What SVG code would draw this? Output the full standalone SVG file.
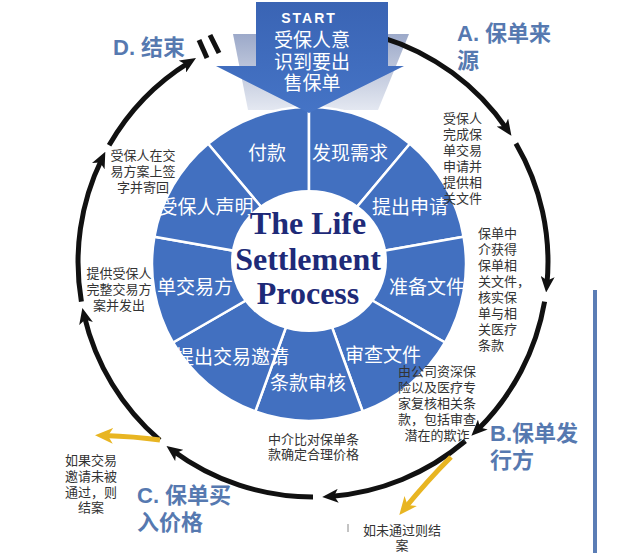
<svg xmlns="http://www.w3.org/2000/svg" width="625" height="559" viewBox="0 0 625 559">
<defs>
  <marker id="ah" viewBox="0 0 16 14" refX="8" refY="7" markerWidth="16" markerHeight="14" markerUnits="userSpaceOnUse" orient="auto">
    <path d="M0,0 L16,7 L0,14 L4,7 Z" fill="#111"/>
  </marker>
  <marker id="ahy" viewBox="0 0 18 16" refX="9" refY="8" markerWidth="18" markerHeight="16" markerUnits="userSpaceOnUse" orient="auto">
    <path d="M0,0 L18,8 L0,16 L5,8 Z" fill="#e8b522"/>
  </marker>
  <linearGradient id="back" x1="0" y1="0" x2="0" y2="1">
    <stop offset="0" stop-color="#9ca9c9"/>
    <stop offset="1" stop-color="#e4e8f1"/>
  </linearGradient>
  <linearGradient id="arr" x1="0" y1="0" x2="0" y2="1">
    <stop offset="0" stop-color="#3a64b4"/>
    <stop offset="1" stop-color="#4574c6"/>
  </linearGradient>
  <style>
    .seg { fill: #4270c0; stroke: #ffffff; stroke-width: 2.5; }
    .segt { font-family: "Noto Sans CJK SC", sans-serif; font-size: 19px; fill: #ffffff; text-anchor: middle; }
    .arc { fill: none; stroke: #111; stroke-width: 5; marker-end: url(#ah); }
    .yarc { fill: none; stroke: #e8b522; stroke-width: 5; marker-end: url(#ahy); }
    .note { font-family: "Noto Sans CJK SC", sans-serif; font-size: 13px; fill: #333; }
    .mid { text-anchor: middle; }
    .lab { font-family: "Liberation Sans", "Noto Sans CJK SC", sans-serif; font-size: 22px; font-weight: bold; fill: #5679b0; }
    .ctr { font-family: "Liberation Serif", serif; font-size: 32px; font-weight: bold; fill: #1e2a78; text-anchor: middle; }
  </style>
</defs>
<rect width="625" height="559" fill="#ffffff"/>

<!-- light back plate behind START arrow -->
<polygon points="233,34 409,34 378,110 248,110" fill="url(#back)"/>

<g id="connectors">
  <path class="arc" d="M381.7,37.3 A235,235 0 0 1 506.9,129.2"/>
  <path class="arc" d="M515.9,143.4 A235,235 0 0 1 546.9,284.5"/>
  <path class="arc" d="M544.6,301.6 A235,235 0 0 1 477.1,430.2"/>
  <path class="arc" d="M465.3,441.0 A235,235 0 0 1 330.2,496.4"/>
  <path class="arc" d="M313,497 A235,235 0 0 1 172.9,450.7"/>
  <path class="arc" d="M159.8,440.2 A235,235 0 0 1 84.2,315.7"/>
  <path class="arc" d="M81.4,301.6 A235,235 0 0 1 101.8,159.0"/>
  <path class="arc" d="M109.1,145.2 A235,235 0 0 1 189.2,62.3"/>
  <path class="yarc" d="M160,440 Q135,436.5 104,435.5"/>
  <path class="yarc" d="M451,457 Q428,480 405,508"/>
  <line x1="199" y1="40" x2="207" y2="58" stroke="#111" stroke-width="5"/>
  <line x1="210" y1="35" x2="219" y2="53" stroke="#111" stroke-width="5"/>
</g>

<g id="ring">
  <g id="seg-fukuan"><path class="seg" d="M309,264 L208.1,143.7 A157,157 0 0 1 309,107 Z"/><text class="segt" x="267" y="160">付款</text></g>
  <g id="seg-faxian"><path class="seg" d="M309,264 L309,107 A157,157 0 0 1 409.9,143.7 Z"/><text class="segt" x="350" y="160">发现需求</text></g>
  <g id="seg-tichu"><path class="seg" d="M309,264 L409.9,143.7 A157,157 0 0 1 463.6,236.7 Z"/><text class="segt" x="410" y="214">提出申请</text></g>
  <g id="seg-zhunbei"><path class="seg" d="M309,264 L463.6,236.7 A157,157 0 0 1 445.0,342.5 Z"/><text class="segt" x="427" y="294">准备文件</text></g>
  <g id="seg-shencha"><path class="seg" d="M309,264 L445.0,342.5 A157,157 0 0 1 362.7,411.5 Z"/><text class="segt" x="383" y="362">审查文件</text></g>
  <g id="seg-tiaokuan"><path class="seg" d="M309,264 L362.7,411.5 A157,157 0 0 1 255.3,411.5 Z"/><text class="segt" x="308" y="390">条款审核</text></g>
  <g id="seg-yaoqing"><path class="seg" d="M309,264 L255.3,411.5 A157,157 0 0 1 173.0,342.5 Z"/><text class="segt" x="232" y="364">提出交易邀请</text></g>
  <g id="seg-fangan"><path class="seg" d="M309,264 L173.0,342.5 A157,157 0 0 1 154.4,236.7 Z"/><text class="segt" x="195" y="294">单交易方</text></g>
  <g id="seg-shengming"><path class="seg" d="M309,264 L154.4,236.7 A157,157 0 0 1 208.1,143.7 Z"/><text class="segt" x="206" y="214">受保人声明</text></g>
</g>

<g id="center">
  <ellipse cx="309" cy="261" rx="78" ry="71" fill="#ffffff"/>
  <text class="ctr" x="308" y="234">The Life</text>
  <text class="ctr" x="308" y="270">Settlement</text>
  <text class="ctr" x="308" y="304">Process</text>
</g>

<g id="start">
  <polygon points="256,2 388,2 388,66 404,66 309,113 216,66 256,66" fill="url(#arr)"/>
  <text x="309" y="23" font-family="Liberation Sans, sans-serif" font-size="14" font-weight="bold" fill="#ffffff" text-anchor="middle" letter-spacing="2">START</text>
  <text x="312" y="47" class="segt">受保人意</text>
  <text x="312" y="69" class="segt">识到要出</text>
  <text x="312" y="90" class="segt">售保单</text>
</g>

<g id="label-a"><text class="lab" x="457" y="41">A. 保单来</text><text class="lab" x="457" y="68">源</text></g>
<g id="label-b"><text class="lab" x="490" y="441">B.保单发</text><text class="lab" x="490" y="468">行方</text></g>
<g id="label-c"><text class="lab" x="137" y="503">C. 保单买</text><text class="lab" x="137" y="530">入价格</text></g>
<g id="label-d"><text class="lab" x="113" y="55" font-size="21">D. 结束</text></g>

<g id="note-1">
  <text class="note" x="443" y="123">受保人</text>
  <text class="note" x="443" y="139">完成保</text>
  <text class="note" x="443" y="155">单交易</text>
  <text class="note" x="443" y="171">申请并</text>
  <text class="note" x="443" y="187">提供相</text>
  <text class="note" x="443" y="203">关文件</text>
</g>
<g id="note-2">
  <text class="note" x="478" y="238">保单中</text>
  <text class="note" x="478" y="254">介获得</text>
  <text class="note" x="478" y="270">保单相</text>
  <text class="note" x="478" y="286">关文件，</text>
  <text class="note" x="478" y="302">核实保</text>
  <text class="note" x="478" y="318">单与相</text>
  <text class="note" x="478" y="334">关医疗</text>
  <text class="note" x="478" y="350">条款</text>
</g>
<g id="note-3">
  <text class="note mid" x="437" y="376">由公司资深保</text>
  <text class="note mid" x="437" y="392">险以及医疗专</text>
  <text class="note mid" x="437" y="408">家复核相关条</text>
  <text class="note mid" x="437" y="424">款，包括审查</text>
  <text class="note mid" x="437" y="440">潜在的欺诈</text>
</g>
<g id="note-4">
  <text class="note" x="268" y="443.5">中介比对保单条</text>
  <text class="note" x="268" y="459">款确定合理价格</text>
</g>
<g id="note-5">
  <text class="note mid" x="91" y="465">如果交易</text>
  <text class="note mid" x="91" y="481">邀请未被</text>
  <text class="note mid" x="91" y="497">通过，则</text>
  <text class="note mid" x="91" y="512">结案</text>
</g>
<g id="note-6">
  <text class="note" x="363" y="535">如未通过则结</text>
  <text class="note mid" x="402" y="550">案</text>
  <line x1="348" y1="524" x2="348" y2="532" stroke="#888" stroke-width="1"/>
</g>
<g id="note-7">
  <text class="note mid" x="143" y="160">受保人在交</text>
  <text class="note mid" x="143" y="176">易方案上签</text>
  <text class="note mid" x="143" y="192">字并寄回</text>
</g>
<g id="note-8">
  <text class="note mid" x="119" y="278">提供受保人</text>
  <text class="note mid" x="119" y="294">完整交易方</text>
  <text class="note mid" x="119" y="310">案并发出</text>
</g>

<rect x="593" y="290" width="4" height="263" fill="#5b7db5"/>
</svg>
